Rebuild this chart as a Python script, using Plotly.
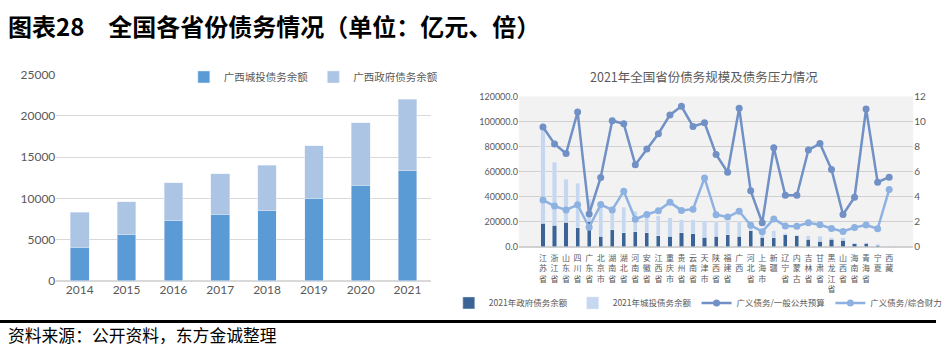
import plotly.graph_objects as go

# ---------------- data ----------------
years = ["2014", "2015", "2016", "2017", "2018", "2019", "2020", "2021"]
gx_chengtou = [4060, 5600, 7300, 8100, 8500, 10000, 11600, 13400]
gx_gov = [4240, 4000, 4600, 4900, 5500, 6400, 7600, 8600]

provinces = ["江苏省", "浙江省", "山东省", "四川省", "广东省", "北京市", "湖南省", "湖北省",
             "河南省", "安徽省", "江西省", "重庆市", "贵州省", "云南省", "天津市", "陕西省",
             "福建省", "广西", "河北省", "上海市", "新疆", "辽宁省", "内蒙古", "吉林省",
             "甘肃省", "黑龙江省", "山西省", "海南省", "青海省", "宁夏", "西藏"]
gov_debt_2021 = [18600, 17100, 19600, 15000, 20400, 8200, 13500, 11200, 12000, 11200,
                 8900, 8200, 11200, 10400, 7400, 8200, 9700, 8200, 12700, 7500,
                 7200, 9600, 8900, 5900, 4300, 5900, 5100, 2800, 2800, 1300, 500]
chengtou_debt_2021 = [75900, 50400, 34200, 35700, 17300, 25700, 17800, 20400, 16500, 15300,
                      15800, 15000, 10500, 11300, 13500, 11700, 10200, 11700, 5100, 4000,
                      5500, 1300, 500, 3000, 3900, 1200, 2000, 100, 300, 500, 100]
ratio_budget = [9.55, 8.2, 7.44, 10.75, 2.62, 5.53, 10.06, 9.81, 6.55, 7.8,
                9.02, 10.52, 11.21, 9.6, 9.89, 7.36, 5.94, 11.06, 4.46, 1.91,
                7.9, 4.1, 4.1, 7.72, 8.23, 6.17, 2.57, 3.95, 11.0, 5.15, 5.55]
ratio_fiscal = [3.72, 3.24, 2.93, 3.34, 1.55, 3.36, 2.93, 4.43, 2.19, 2.57,
                2.88, 3.54, 2.9, 3.0, 5.48, 2.55, 2.37, 2.83, 1.71, 1.2,
                2.22, 1.66, 1.63, 1.91, 1.76, 1.45, 1.22, 1.53, 1.73, 1.43, 4.56]

W, H = 947, 353
FONT = "Lato, Noto Sans CJK SC, sans-serif"
CJK = "Noto Sans CJK SC, sans-serif"
GREY = "#595959"

def px(x):
    return x / W

def py(y):
    return 1 - y / H

fig = go.Figure()

# ---------------- left chart ----------------
fig.add_trace(go.Bar(x=years, y=gx_chengtou, name="广西城投债务余额", marker_color="#5b9bd5",
                     width=0.4, xaxis="x", yaxis="y", legend="legend"))
fig.add_trace(go.Bar(x=years, y=gx_gov, name="广西政府债务余额", marker_color="#adc5e5",
                     width=0.4, xaxis="x", yaxis="y", legend="legend"))

# ---------------- right chart ----------------
tick_txt = ["<br>".join(list(p)) for p in provinces]
fig.add_trace(go.Bar(x=provinces, y=gov_debt_2021, name="2021年政府债务余额", marker_color="#3b6396",
                     width=0.36, xaxis="x2", yaxis="y2", legend="legend2"))
fig.add_trace(go.Bar(x=provinces, y=chengtou_debt_2021, name="2021年城投债务余额", marker_color="#c6d8ef",
                     width=0.36, xaxis="x2", yaxis="y2", legend="legend2"))
fig.add_trace(go.Scatter(x=provinces, y=ratio_budget, name="广义债务/一般公共预算", mode="lines+markers",
                         line=dict(color="#7090c6", width=2.5), marker=dict(size=7, color="#7090c6"),
                         xaxis="x2", yaxis="y3", legend="legend2"))
fig.add_trace(go.Scatter(x=provinces, y=ratio_fiscal, name="广义债务/综合财力", mode="lines+markers",
                         line=dict(color="#8db2e2", width=2.5), marker=dict(size=7, color="#8db2e2"),
                         xaxis="x2", yaxis="y3", legend="legend2"))

fig.update_layout(
    width=W, height=H,
    margin=dict(l=0, r=0, t=0, b=0),
    paper_bgcolor="white", plot_bgcolor="rgba(0,0,0,0)",
    barmode="stack",
    font=dict(family=FONT, color=GREY),
    xaxis=dict(domain=[px(57), px(436)], showgrid=False, showline=False, zeroline=False,
               tickfont=dict(size=12, family=FONT, color=GREY), ticks="", fixedrange=True),
    yaxis=dict(domain=[py(285), py(69.7)], range=[0, 25000], dtick=5000, tickformat="d",
               showgrid=True, gridcolor="#d9d9d9", gridwidth=1, zeroline=True, zerolinecolor="#d9d9d9",
               tickfont=dict(size=12, family=FONT, color=GREY), ticks="", showline=False),
    xaxis2=dict(domain=[px(525), px(924)], showgrid=False, showline=False, zeroline=False,
                tickmode="array", tickvals=provinces, ticktext=tick_txt, tickangle=0,
                tickfont=dict(size=8, family=CJK, color=GREY), ticks="", anchor="y2",
                ticklabelstandoff=5),
    yaxis2=dict(domain=[py(249.3), py(92.3)], range=[0, 120000], dtick=20000, tickformat=".1f",
                showgrid=True, gridcolor="#d0d0d0", zeroline=True, zerolinecolor="#d0d0d0",
                tickfont=dict(size=9, family=FONT, color=GREY), ticks="", anchor="x2"),
    yaxis3=dict(range=[0, 12], dtick=2, overlaying="y2", side="right", anchor="x2",
                showgrid=False, zeroline=False, tickfont=dict(size=10, family=FONT, color=GREY),
                ticks=""),
    legend=dict(orientation="h", x=px(186), y=py(72), xanchor="left", yanchor="middle",
                font=dict(size=10.5, family=CJK, color=GREY), bgcolor="rgba(0,0,0,0)",
                traceorder="normal", itemwidth=30),
    legend2=dict(orientation="h", x=px(706), y=py(308), xanchor="center", yanchor="middle",
                 font=dict(size=8.5, family=CJK, color=GREY), bgcolor="rgba(0,0,0,0)",
                 traceorder="normal", itemwidth=30),
    showlegend=True,
)

# grey plot background for the right chart
fig.add_shape(type="rect", xref="x2 domain", yref="y2 domain", x0=0, x1=1, y0=0, y1=1,
              fillcolor="#f2f2f2", line=dict(width=0), layer="below")

# thick separator line above the source note
fig.add_shape(type="line", xref="paper", yref="paper", x0=0, x1=1, y0=py(327.5), y1=py(327.5),
              line=dict(color="black", width=3))

fig.add_annotation(text="<b>图表28　全国各省份债务情况（单位：亿元、倍）</b>", xref="paper", yref="paper",
                   x=px(6), y=py(18), xanchor="left", yanchor="middle", showarrow=False,
                   font=dict(size=24, family=CJK, color="black"))
fig.add_annotation(text="2021年全国省份债务规模及债务压力情况", xref="paper", yref="paper",
                   x=px(712), y=py(72), xanchor="center", yanchor="middle", showarrow=False,
                   font=dict(size=12.5, family=CJK, color=GREY))
fig.add_annotation(text="资料来源：公开资料，东方金诚整理", xref="paper", yref="paper",
                   x=px(6), y=py(341), xanchor="left", yanchor="middle", showarrow=False,
                   font=dict(size=16.8, family=CJK, color="black"))

fig.write_html("out.html")
